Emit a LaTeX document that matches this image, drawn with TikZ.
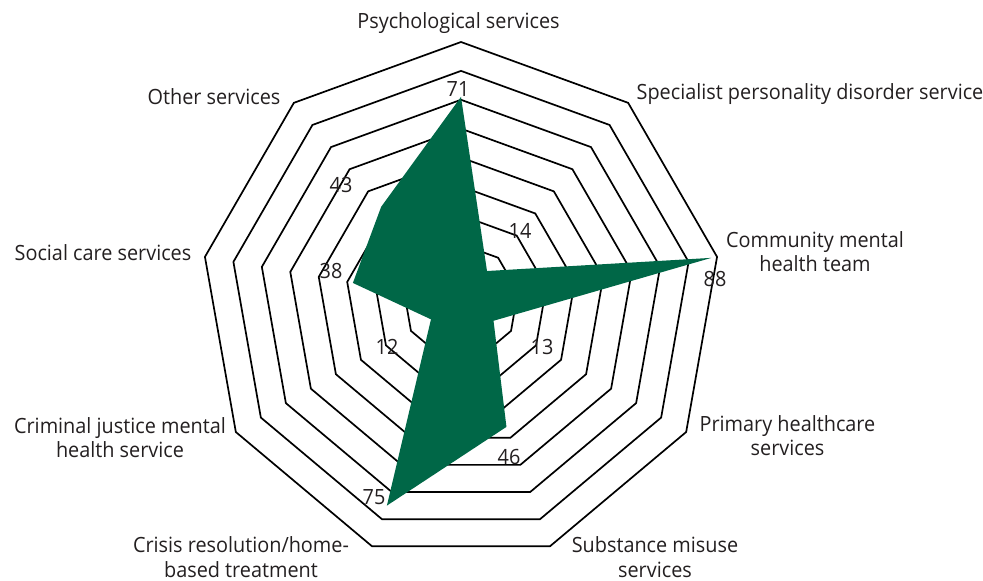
\documentclass[tikz,border=0pt]{standalone}
\usepackage{fontspec}
\setmainfont{Open Sans}[FakeStretch=0.945]
\definecolor{chartgreen}{RGB}{0,103,71}
\definecolor{txt}{RGB}{35,31,32}
\begin{document}
\begin{tikzpicture}[x=1pt,y=-1pt,
  ring/.style={draw=black,line width=1.7pt,line join=miter},
  datafill/.style={fill=chartgreen},
  catlabel/.style={font=\fontsize{21}{24.5}\selectfont,text=txt,inner sep=0pt,align=center},
  vallabel/.style={font=\fontsize{21}{24.5}\selectfont,text=txt,inner sep=0pt}]
\useasboundingbox (0,0) rectangle (983,581);
\coordinate (C) at (461,302);
\def\u{2.88889}
\begin{scope}[shift={(C)}]
\foreach \k in {1,...,9}{
  \pgfmathsetmacro{\r}{\k*260/9}
  \draw[ring] (90:\r pt) -- (50:\r pt) -- (10:\r pt) -- (-30:\r pt) -- (-70:\r pt) -- (-110:\r pt) -- (-150:\r pt) -- (170:\r pt) -- (130:\r pt) -- cycle;
}
\path[datafill] (90:{71*\u pt}) -- (50:{14*\u pt}) -- (10:{88*\u pt}) -- (-30:{13*\u pt}) -- (-70:{46*\u pt}) -- (-110:{75*\u pt}) -- (-150:{12*\u pt}) -- (170:{38*\u pt}) -- (130:{43*\u pt}) -- cycle;
\end{scope}
% value labels
\node[vallabel] (v71) at (458,89.5) {71};
\node[vallabel] (v14) at (520,231) {14};
\node[vallabel] (v88) at (715,279) {88};
\node[vallabel] (v13) at (542,347) {13};
\node[vallabel] (v46) at (509,457) {46};
\node[vallabel] (v75) at (374,497) {75};
\node[vallabel] (v12) at (387,347) {12};
\node[vallabel] (v38) at (331,271) {38};
\node[vallabel] (v43) at (341,185) {43};
% category labels
\node[catlabel,anchor=base] (psy) at (458.5,28) {Psychological services};
\node[catlabel,anchor=base] (spd) at (810,99) {Specialist personality disorder service};
\node[catlabel] (cmht) at (815,254.35) {\strut Community mental\\\strut health team};
\node[catlabel] (phc) at (787.5,438.35) {\strut Primary healthcare\\\strut services};
\node[catlabel] (sms) at (655,556.5) {\strut Substance misuse\\services};
\node[catlabel] (crht) at (241,556.5) {\strut Crisis resolution/home-\\based treatment};
\node[catlabel] (cjm) at (120,440.35) {\strut Criminal justice mental\\\strut health service};
\node[catlabel,anchor=base] (scs) at (103,260) {Social care services};
\node[catlabel,anchor=base] (oth) at (214,104) {Other services};
\end{tikzpicture}
\end{document}
